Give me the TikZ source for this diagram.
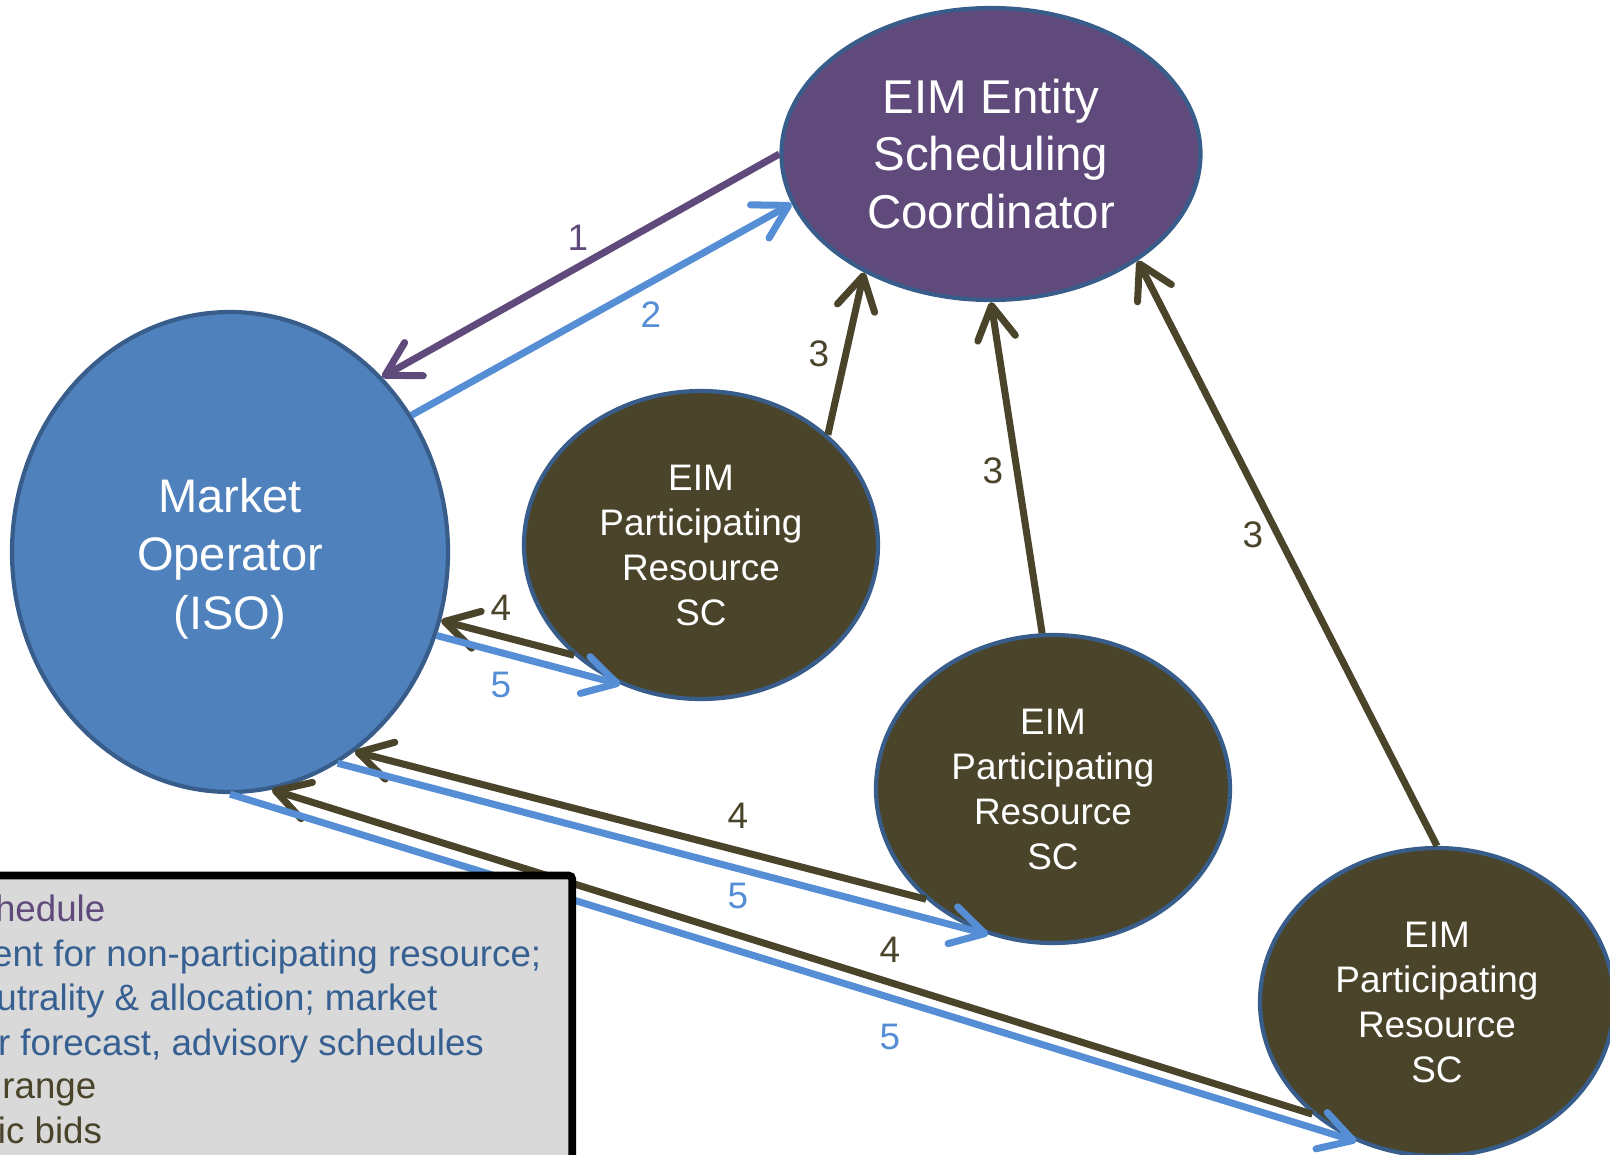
\documentclass[tikz,border=0pt]{standalone}
\usepackage{fontspec}
\setmainfont{Liberation Sans}
\usetikzlibrary{shapes.geometric,arrows.meta}
\definecolor{eimpurple}{HTML}{5F4A7B}
\definecolor{isoblue}{HTML}{4F81BD}
\definecolor{rimblue}{HTML}{385D8A}
\definecolor{olive}{HTML}{4A442A}
\definecolor{flowblue}{HTML}{558ED5}
\definecolor{textblue}{HTML}{376092}
\definecolor{boxgray}{HTML}{D9D9D9}
\tikzset{link/.style = {-{Straight Barb[length=3.3mm,width=3.8mm,round]}, line width=2pt}}
\tikzset{lbl/.style = {inner sep=0pt, font=\fontsize{10.5}{12.6}\selectfont}}

\begin{document}
\begin{tikzpicture}
	\useasboundingbox (0,0) rectangle (16.10,-11.54);
	\clip (0,0) rectangle (16.10,-11.54);
	\begin{scope}[every node/.style={ellipse,draw=rimblue,line width=1.2pt,inner sep=0pt,text=white,align=center}, prnode/.style = {fill=olive,minimum width=3.54cm,minimum height=3.08cm,font=\fontsize{10.5}{12.8}\selectfont}]
	    \node [fill=eimpurple,minimum width=4.19cm,minimum height=2.92cm,font=\fontsize{13.5}{16.4}\selectfont] (esc) at (9.91,-1.54) {EIM Entity\\Scheduling\\Coordinator};
	    \node [fill=isoblue,minimum width=4.36cm,minimum height=4.80cm,font=\fontsize{13.4}{16.6}\selectfont] (iso) at (2.30,-5.52) {\rule{0pt}{13.4pt}Market\\Operator\\(ISO)};
	    \node [prnode] (pra) at (7.01,-5.45) {EIM\\Participating\\Resource\\SC};
	    \node [prnode] (prb) at (10.53,-7.89) {EIM\\Participating\\Resource\\SC};
	    \node [prnode] (prc) at (14.37,-10.02) {EIM\\Participating\\Resource\\SC};
	\end{scope}
	\begin{scope}[every edge/.style={draw}]
	    \path [link, eimpurple] (esc.180) edge (iso.49);
	    \path [link, flowblue] (iso.37) edge (esc.194);
	    \path [link, olive] (pra.41) edge (esc.223);
	    \path [link, olive] (prb.94) edge (esc.south);
	    \path [link, olive] (prc.north) edge (esc.324);
	    \path [link, olive] (pra.221) edge (iso.342);
	    \path [link, flowblue] (iso.338) edge (pra.240);
	    \path [link, olive] (prb.221) edge (iso.302);
	    \path [link, flowblue] (iso.297) edge (prb.246);
	    \path [link, olive] (prc.222) edge (iso.280);
	    \path [link, flowblue] (iso.south) edge (prc.240);
	\end{scope}
	\node [lbl, eimpurple] (n1) at (5.78,-2.38) {1};
	\node [lbl, flowblue] (n2) at (6.51,-3.15) {2};
	\node [lbl, olive] (n3a) at (8.19,-3.54) {3};
	\node [lbl, olive] (n3b) at (9.93,-4.71) {3};
	\node [lbl, olive] (n3c) at (12.53,-5.35) {3};
	\node [lbl, olive] (n4a) at (5.01,-6.08) {4};
	\node [lbl, olive] (n4b) at (7.38,-8.16) {4};
	\node [lbl, olive] (n4c) at (8.90,-9.50) {4};
	\node [lbl, flowblue] (n5a) at (5.01,-6.85) {5};
	\node [lbl, flowblue] (n5b) at (7.38,-8.96) {5};
	\node [lbl, flowblue] (n5c) at (8.90,-10.37) {5};
	% legend box, cut off at the left edge
	\draw [line width=2.2pt, fill=boxgray, rounded corners=1pt] (-0.3,-8.755) rectangle (5.722,-12.0);
	\begin{scope}[every node/.style={anchor=base east,inner sep=0pt,font=\fontsize{10.45}{12.6}\selectfont}]
	    \node [eimpurple] (l1) at (1.06,-9.21) {hedule};
	    \node [textblue] (l2) at (5.42,-9.66) {ent for non-participating resource;};
	    \node [textblue] (l3) at (4.38,-10.107) {utrality \& allocation; market};
	    \node [textblue] (l4) at (4.846,-10.55) {r forecast, advisory schedules};
	    \node [olive] (l5) at (0.97,-10.98) {range};
	    \node [olive] (l6) at (1.027,-11.43) {ic bids};
	\end{scope}
\end{tikzpicture}
\end{document}
